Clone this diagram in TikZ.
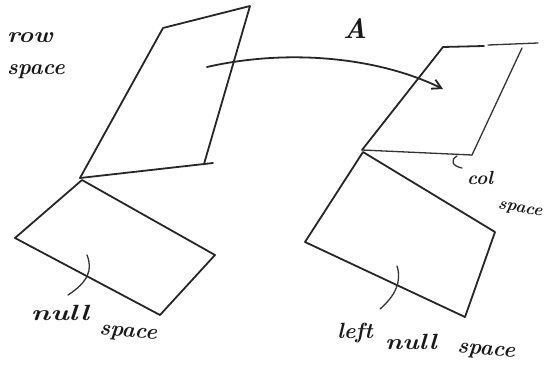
\documentclass[tikz,border=0pt]{standalone}
\usetikzlibrary{arrows.meta}
\begin{document}
\begin{tikzpicture}[x=1pt,y=-1pt,
  stroke/.style={line width=1.8pt,line cap=round,line join=round,draw=black!85},
  thin stroke/.style={line width=1.3pt,line cap=round,draw=black!80},
  hand/.style={font=\fontsize{22}{24}\selectfont\bfseries\itshape,inner sep=0pt,text=black!90}]
\useasboundingbox (0,0) rectangle (551,380);
% row space plane
\coordinate (r1) at (163,28);
\coordinate (r2) at (250,6);
\coordinate (r3) at (204,164);
\coordinate (r4) at (80,178);
\draw[stroke] (r4) -- (r1) -- (r2) -- (r3);
\draw[stroke] (r4) -- (213,163);
% null space plane
\coordinate (n1) at (82,180);
\coordinate (n2) at (215,255);
\coordinate (n3) at (160,315);
\coordinate (n4) at (15,238);
\draw[stroke] (n1) -- (n2) -- (n3) -- (n4) -- (n1);
% col space plane
\coordinate (c1) at (443,47);
\coordinate (c2) at (538,43);
\coordinate (c3) at (472,155);
\coordinate (c4) at (362,150);
\draw[stroke] (c4) -- (c1) -- (484,46);
\draw[thin stroke] (488,45) -- (c2);
\draw[thin stroke] (522,48) -- (c3);
\draw[thin stroke] (c4) -- (c3);
% left null space plane
\coordinate (l1) at (363,152);
\coordinate (l2) at (495,232);
\coordinate (l3) at (465,317);
\coordinate (l4) at (305,242);
\draw[stroke] (l1) -- (l2) -- (l3) -- (l4) -- (l1);
% mapping arrow
\coordinate (as) at (207,67);
\coordinate (ae) at (443,89);
\draw[stroke,-{Straight Barb[length=9pt,width=10pt]}] (as) .. controls (290,48) and (380,58) .. (ae);
\node[hand,font=\fontsize{28}{30}\selectfont\bfseries\itshape] (A) at (355,29) {A};
% labels
\node[hand,xscale=1.15] (row) at (30,38) {row};
\node[hand] (rowsp) at (36,72) {space};
\node[hand,xscale=1.35] (null) at (60,313) {null};
\node[hand,rotate=-5] (nullsp) at (128,334) {space};
\node[hand,font=\fontsize{19}{21}\selectfont\bfseries\itshape] (col) at (480,178) {col};
\node[hand,rotate=-10,font=\fontsize{17}{19}\selectfont\bfseries\itshape] (colsp) at (520,210) {space};
\node[hand] (left) at (355,333) {left};
\node[hand,xscale=1.2] (lnull) at (411,342) {null};
\node[hand,rotate=-5] (lnullsp) at (486,352) {space};
% pointers
\coordinate (p1a) at (87,255);
\coordinate (p1b) at (68,295);
\draw[thin stroke] (p1a) .. controls (93,270) and (88,282) .. (p1b);
\coordinate (p2a) at (397,266);
\coordinate (p2b) at (380,309);
\draw[thin stroke] (p2a) .. controls (402,282) and (395,296) .. (p2b);
\coordinate (p3a) at (457,156);
\coordinate (p3b) at (462,168);
\draw[thin stroke] (p3a) .. controls (450,160) and (452,166) .. (p3b);
\end{tikzpicture}
\end{document}
